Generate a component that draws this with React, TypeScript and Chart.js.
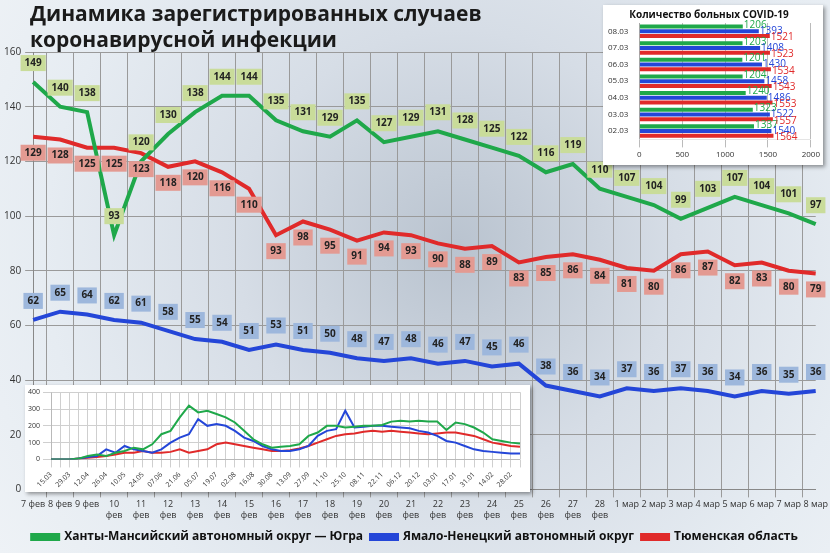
import React, { useEffect, useRef } from 'react';
import Chart from 'chart.js/auto';

const days = ['7 фев', '8 фев', '9 фев', ['10', 'фев'], ['11', 'фев'], ['12', 'фев'], ['13', 'фев'], ['14', 'фев'], ['15', 'фев'], ['16', 'фев'], ['17', 'фев'], ['18', 'фев'], ['19', 'фев'], ['20', 'фев'], ['21', 'фев'], ['22', 'фев'], ['23', 'фев'], ['24', 'фев'], ['25', 'фев'], ['26', 'фев'], ['27', 'фев'], ['28', 'фев'], '1 мар', '2 мар', '3 мар', '4 мар', '5 мар', '6 мар', '7 мар', '8 мар'];
const hmao = [149, 140, 138, 93, 120, 130, 138, 144, 144, 135, 131, 129, 135, 127, 129, 131, 128, 125, 122, 116, 119, 110, 107, 104, 99, 103, 107, 104, 101, 97];
const yanao = [62, 65, 64, 62, 61, 58, 55, 54, 51, 53, 51, 50, 48, 47, 48, 46, 47, 45, 46, 38, 36, 34, 37, 36, 37, 36, 34, 36, 35, 36];
const tyumen = [129, 128, 125, 125, 123, 118, 120, 116, 110, 93, 98, 95, 91, 94, 93, 90, 88, 89, 83, 85, 86, 84, 81, 80, 86, 87, 82, 83, 80, 79];

const weeks = ['15.03', '22.03', '29.03', '05.04', '12.04', '19.04', '26.04', '03.05', '10.05', '17.05', '24.05', '31.05', '07.06', '14.06', '21.06', '28.06', '05.07', '12.07', '19.07', '26.07', '02.08', '09.08', '16.08', '23.08', '30.08', '06.09', '13.09', '20.09', '27.09', '04.10', '11.10', '18.10', '25.10', '01.11', '08.11', '15.11', '22.11', '29.11', '06.12', '13.12', '20.12', '27.12', '03.01', '10.01', '17.01', '24.01', '31.01', '07.02', '14.02', '21.02', '28.02', '07.03'];
const hmaoYear = [0, 0, 0, 5, 20, 30, 20, 40, 50, 70, 60, 90, 150, 170, 250, 320, 280, 290, 270, 250, 220, 170, 120, 90, 70, 75, 80, 90, 140, 160, 200, 200, 190, 195, 200, 200, 205, 225, 230, 225, 230, 225, 225, 175, 220, 210, 190, 160, 120, 110, 100, 95];
const yanaoYear = [0, 0, 0, 5, 15, 20, 60, 40, 80, 60, 50, 40, 60, 100, 130, 150, 240, 200, 210, 200, 170, 130, 110, 80, 60, 50, 50, 60, 80, 140, 170, 180, 290, 190, 195, 200, 200, 195, 190, 185, 170, 160, 140, 110, 100, 80, 60, 50, 45, 40, 35, 35];
const tyumenYear = [0, 0, 0, 5, 10, 15, 20, 30, 40, 40, 50, 40, 40, 45, 60, 40, 50, 60, 90, 100, 90, 80, 70, 60, 50, 50, 55, 65, 80, 100, 120, 140, 150, 155, 165, 170, 165, 170, 165, 160, 155, 150, 155, 160, 160, 150, 140, 120, 100, 90, 80, 75];

const barDates = ['08.03', '07.03', '06.03', '05.03', '04.03', '03.03', '02.03'];
const hmaoSick = [1206, 1203, 1201, 1204, 1240, 1323, 1337];
const yanaoSick = [1393, 1408, 1430, 1458, 1486, 1522, 1540];
const tyumenSick = [1521, 1523, 1534, 1543, 1553, 1557, 1564];

const GREEN = '#1fa84a';
const BLUE = '#2446d8';
const RED = '#e02a2a';
const FONT = '"Open Sans", sans-serif';

const boxLabels = {
  id: 'boxLabels',
  afterDatasetsDraw(chart: any) {
    const ctx = chart.ctx;
    const cfg = [
      { bg: '#c9dc9a', dy: -19 },
      { bg: '#9db7dc', dy: -19 },
      { bg: '#e39a92', dy: 16 },
    ];
    ctx.save();
    ctx.font = 'bold 10px ' + FONT;
    ctx.textAlign = 'center';
    ctx.textBaseline = 'middle';
    chart.data.datasets.forEach((ds: any, i: number) => {
      const meta = chart.getDatasetMeta(i);
      meta.data.forEach((pt: any, j: number) => {
        const t = String(ds.data[j]);
        const w = ctx.measureText(t).width + 8;
        const x = pt.x;
        const y = pt.y + cfg[i].dy;
        ctx.fillStyle = cfg[i].bg;
        ctx.fillRect(x - w / 2, y - 8, w, 16);
        ctx.fillStyle = '#222';
        ctx.fillText(t, x, y);
      });
    });
    ctx.restore();
  },
};

const barLabels = {
  id: 'barLabels',
  afterDatasetsDraw(chart: any) {
    const ctx = chart.ctx;
    const cols = [GREEN, BLUE, RED];
    ctx.save();
    ctx.font = '10px ' + FONT;
    ctx.textBaseline = 'middle';
    chart.data.datasets.forEach((ds: any, i: number) => {
      chart.getDatasetMeta(i).data.forEach((b: any, j: number) => {
        ctx.fillStyle = cols[i];
        ctx.fillText(String(ds.data[j]), b.x + 1, b.y + (i - 1) * 1.5);
      });
    });
    ctx.restore();
  },
};

const App: React.FC = () => {
  const mainRef = useRef<HTMLCanvasElement>(null);
  const yearRef = useRef<HTMLCanvasElement>(null);
  const barRef = useRef<HTMLCanvasElement>(null);

  useEffect(() => {
    const charts: Chart[] = [];
    if (mainRef.current) {
      charts.push(new Chart(mainRef.current, {
        type: 'line',
        data: {
          labels: days as any,
          datasets: [
            { label: 'Ханты-Мансийский автономный округ — Югра', data: hmao, borderColor: GREEN, backgroundColor: GREEN, borderWidth: 4, pointRadius: 0, tension: 0 },
            { label: 'Ямало-Ненецкий автономный округ', data: yanao, borderColor: BLUE, backgroundColor: BLUE, borderWidth: 4, pointRadius: 0 },
            { label: 'Тюменская область', data: tyumen, borderColor: RED, backgroundColor: RED, borderWidth: 4, pointRadius: 0 },
          ],
        },
        options: {
          animation: false,
          responsive: false,
          layout: { padding: { top: 52, right: 0, left: 0, bottom: 0 } },
          scales: {
            x: {
              grid: { color: '#9a9a9a', offset: true },
              border: { color: '#888' },
              ticks: { color: '#333', font: { size: 9, family: FONT }, maxRotation: 0, autoSkip: false, padding: 2 },
            },
            y: {
              min: 0, max: 160,
              grid: { color: '#9a9a9a' },
              border: { color: '#888' },
              ticks: { stepSize: 20, color: '#333', font: { size: 10, family: FONT }, padding: 4 },
            },
          },
          plugins: {
            legend: {
              position: 'bottom',
              labels: { boxWidth: 26, boxHeight: 4, padding: 8, color: '#111', font: { size: 12, weight: 'bold', family: FONT } },
            },
            tooltip: { enabled: false },
          },
        },
        plugins: [boxLabels],
      }));
    }
    if (yearRef.current) {
      charts.push(new Chart(yearRef.current, {
        type: 'line',
        data: {
          labels: weeks,
          datasets: [
            { data: hmaoYear, borderColor: GREEN, borderWidth: 2, pointRadius: 0 },
            { data: yanaoYear, borderColor: BLUE, borderWidth: 2, pointRadius: 0 },
            { data: tyumenYear, borderColor: RED, borderWidth: 2, pointRadius: 0 },
          ],
        },
        options: {
          animation: false,
          responsive: false,
          layout: { padding: { top: 2, right: 10, left: 0, bottom: 0 } },
          scales: {
            x: {
              grid: { color: '#cfcfcf' },
              ticks: {
                autoSkip: false, maxRotation: 45, minRotation: 45, color: '#333', font: { size: 7, family: FONT },
                callback: (_v: any, i: number) => (i % 2 === 0 ? weeks[i] : ''),
              },
            },
            y: {
              min: 0, max: 400,
              grid: { color: '#cfcfcf' },
              ticks: { stepSize: 100, color: '#333', font: { size: 7, family: FONT } },
            },
          },
          plugins: { legend: { display: false }, tooltip: { enabled: false } },
        },
      }));
    }
    if (barRef.current) {
      charts.push(new Chart(barRef.current, {
        type: 'bar',
        data: {
          labels: barDates,
          datasets: [
            { data: hmaoSick, backgroundColor: GREEN, barPercentage: 0.85, categoryPercentage: 0.85 },
            { data: yanaoSick, backgroundColor: BLUE, barPercentage: 0.85, categoryPercentage: 0.85 },
            { data: tyumenSick, backgroundColor: RED, barPercentage: 0.85, categoryPercentage: 0.85 },
          ],
        },
        options: {
          indexAxis: 'y',
          animation: false,
          responsive: false,
          layout: { padding: { right: 10, left: 2, bottom: 2 } },
          scales: {
            x: {
              min: 0, max: 2000,
              grid: { color: '#bbb' },
              ticks: { stepSize: 500, color: '#333', font: { size: 8, family: FONT }, callback: (v: any) => String(v) },
            },
            y: {
              grid: { display: false },
              ticks: { color: '#333', font: { size: 8, family: FONT } },
            },
          },
          plugins: {
            legend: { display: false },
            tooltip: { enabled: false },
            title: { display: true, text: 'Количество больных COVID-19', color: '#111', font: { size: 10, weight: 'bold', family: FONT }, padding: { top: 4, bottom: 2 } },
          },
        },
        plugins: [barLabels],
      }));
    }
    return () => charts.forEach((c) => c.destroy());
  }, []);

  return (
    <div style={{ position: 'fixed', left: 0, top: 0, width: 830, height: 553, overflow: 'hidden', fontFamily: FONT,
      background: 'radial-gradient(circle at 55% 45%, #b9c3cf 0%, #d6dde6 40%, #e6ecf2 75%, #eef2f6 100%)' }}>
      <canvas ref={mainRef} width={830} height={553} style={{ position: 'absolute', left: 0, top: 0 }} />
      <div style={{ position: 'absolute', left: 30, top: 0, fontSize: 21, fontWeight: 'bold', lineHeight: '26px', color: '#1b1b1b' }}>
        Динамика зарегистрированных случаев<br />коронавирусной инфекции
      </div>
      <div style={{ position: 'absolute', left: 25, top: 385, width: 505, height: 107, background: '#fff', boxShadow: '2px 2px 4px rgba(0,0,0,0.4)' }}>
        <canvas ref={yearRef} width={505} height={107} />
      </div>
      <div style={{ position: 'absolute', left: 603, top: 5, width: 220, height: 160, background: '#fff', boxShadow: '2px 2px 4px rgba(0,0,0,0.4)' }}>
        <canvas ref={barRef} width={220} height={160} />
      </div>
    </div>
  );
};

export default App;
